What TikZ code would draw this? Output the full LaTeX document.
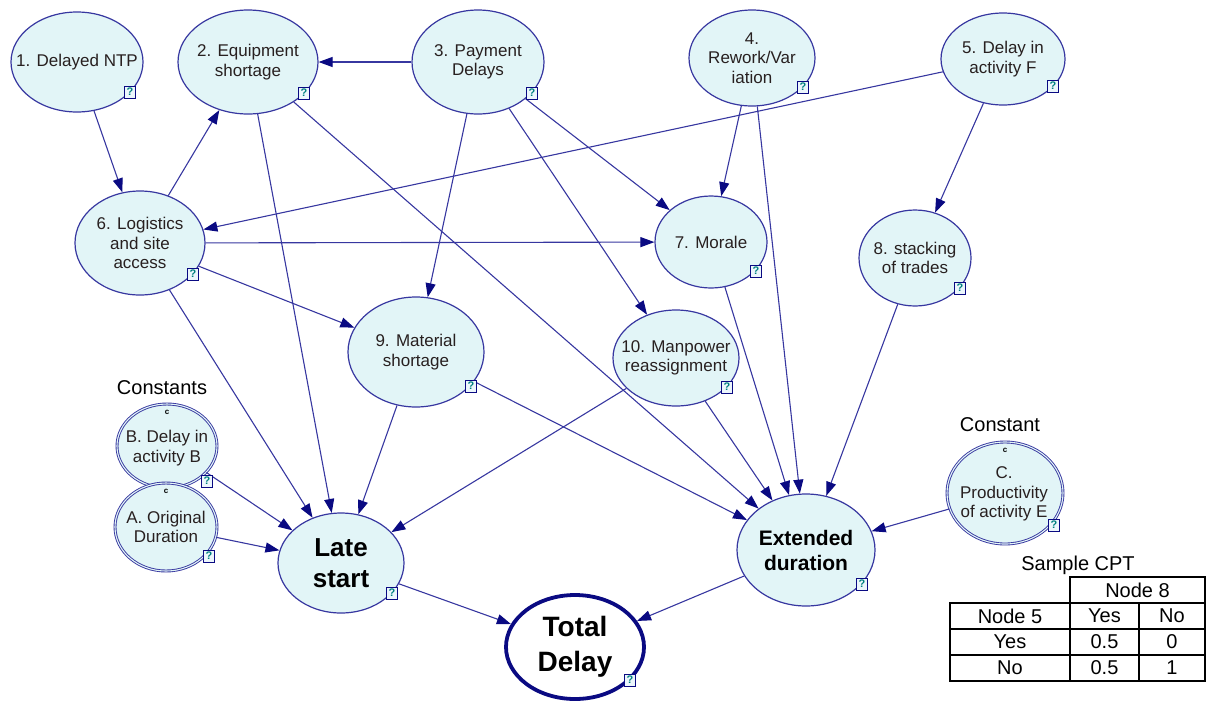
\documentclass[tikz,border=0pt]{standalone}
\usepackage{fontspec}
\setmainfont{Liberation Sans}
\usetikzlibrary{arrows.meta,shapes.geometric}
\definecolor{nodefill}{RGB}{226,245,247}
\definecolor{linec}{RGB}{55,55,160}
\definecolor{arrowc}{RGB}{10,10,130}
\definecolor{txtc}{RGB}{40,32,32}
\definecolor{qcol}{RGB}{0,128,128}
\definecolor{qfill}{RGB}{236,246,252}
\begin{document}
\begin{tikzpicture}[x=1pt,y=-1pt,
  bn/.style={ellipse, draw=linec, fill=nodefill, line width=1.2pt, inner sep=0pt},
  cn/.style={ellipse, draw=linec, fill=nodefill, double=nodefill, double distance=1.1pt, line width=0.9pt, inner sep=0pt},
  td/.style={ellipse, draw=arrowc, fill=white, line width=3.8pt, inner sep=0pt},
  lbl/.style={align=center, text=txtc, font=\fontsize{17}{19.5}\selectfont, inner sep=0pt},
  big/.style={align=center, text=black, inner sep=0pt},
  plain/.style={text=black, inner sep=0pt, font=\fontsize{20}{24}\selectfont},
  cmark/.style={text=black, inner sep=0pt, font=\bfseries\fontsize{8}{8}\selectfont},
  qb/.style={draw=arrowc, fill=qfill, line width=0.9pt, minimum width=11.5pt, minimum height=12pt, inner sep=0pt, font=\bfseries\fontsize{11}{11}\selectfont, text=qcol},
  conn/.style={draw=linec, line width=1.1pt, -{Triangle[length=14pt,width=10pt,color=arrowc]}},
  tab/.style={draw=black, line width=1.8pt}
]
\useasboundingbox (0,0) rectangle (1206,702);

% ---- nodes ----
\node[bn, minimum width=132pt, minimum height=100pt] (n1) at (77,62) {};
\node[lbl] (t1) at (n1) {1. Delayed NTP};
\node[bn, minimum width=140pt, minimum height=104pt] (n2) at (248,62) {};
\node[lbl] (t2) at (n2) {2. Equipment\\shortage};
\node[bn, minimum width=132pt, minimum height=104pt] (n3) at (478,62) {};
\node[lbl] (t3) at (n3) {3. Payment\\Delays};
\node[bn, minimum width=126pt, minimum height=96pt] (n4) at (752,58) {};
\node[lbl] (t4) at (n4) {4.\\Rework/Var\\iation};
\node[bn, minimum width=124pt, minimum height=92pt] (n5) at (1003,59) {};
\node[lbl] (t5) at (n5) {5. Delay in\\activity F};
\node[bn, minimum width=130pt, minimum height=104pt] (n6) at (140,243) {};
\node[lbl] (t6) at (n6) {6. Logistics\\and site\\access};
\node[bn, minimum width=112pt, minimum height=92pt] (n7) at (711,242) {};
\node[lbl] (t7) at (n7) {7. Morale};
\node[bn, minimum width=112pt, minimum height=96pt] (n8) at (915,258) {};
\node[lbl] (t8) at (n8) {8. stacking\\of trades};
\node[bn, minimum width=136pt, minimum height=110pt] (n9) at (416,352) {};
\node[lbl] (t9) at (n9) {9. Material\\shortage};
\node[bn, minimum width=126pt, minimum height=96pt] (n10) at (676,358) {};
\node[lbl] (t10) at (n10) {10. Manpower\\reassignment};
\node[cn, minimum width=100pt, minimum height=84pt] (nB) at (167,446) {};
\node[lbl] (tB) at (167,448) {B. Delay in\\activity B};
\node[cn, minimum width=102pt, minimum height=88pt] (nA) at (166,527) {};
\node[lbl] (tA) at (nA) {A. Original\\Duration};
\node[bn, minimum width=126pt, minimum height=100pt] (nLS) at (341,563) {};
\node[big, font=\bfseries\fontsize{26}{31}\selectfont] (tLS) at (nLS) {Late\\start};
\node[bn, minimum width=138pt, minimum height=112pt] (nED) at (806,550) {};
\node[big, font=\bfseries\fontsize{21}{25}\selectfont] (tED) at (nED) {Extended\\duration};
\node[cn, minimum width=116pt, minimum height=102pt] (nC) at (1005,493) {};
\node[lbl] (tC) at (1004,494) {C.\\Productivity\\of activity E};
\node[td, minimum width=138pt, minimum height=104pt] (nTD) at (575,647) {};
\node[big, font=\bfseries\fontsize{28}{35}\selectfont] (tTD) at (nTD) {Total\\Delay};

% constant marks
\node[cmark] (cB) at (167,412) {c};
\node[cmark] (cA) at (166,491) {c};
\node[cmark] (cC) at (1005,450) {c};

% ---- connectors ----
\draw[conn] (n1) -- (n6);
\draw[conn] (n6) -- (n2);
\draw[conn] (n3) -- (n2);
\draw[conn] (n2) -- (nLS);
\draw[conn] (n2) -- (nED);
\draw[conn] (n3) -- (n9);
\draw[conn] (n3) -- (n7);
\draw[conn] (n3) -- (n10);
\draw[conn] (n4) -- (n7);
\draw[conn] (n4) -- (nED);
\draw[conn] (n5) -- (n6);
\draw[conn] (n5) -- (n8);
\draw[conn] (n6) -- (n7);
\draw[conn] (n6) -- (n9);
\draw[conn] (n6) -- (nLS);
\draw[conn] (n7) -- (nED);
\draw[conn] (n8) -- (nED);
\draw[conn] (n9) -- (nLS);
\draw[conn] (n9) -- (nED);
\draw[conn] (n10) -- (nLS);
\draw[conn] (n10) -- (nED);
\draw[conn] (nB) -- (nLS);
\draw[conn] (nA) -- (nLS);
\draw[conn] (nC) -- (nED);
\draw[conn] (nLS) -- (nTD);
\draw[conn] (nED) -- (nTD);

% ---- question boxes ----
\node[qb] (q1) at (130,92) {?};
\node[qb] (q2) at (304,93) {?};
\node[qb] (q3) at (532,93) {?};
\node[qb] (q4) at (803,87) {?};
\node[qb] (q5) at (1053,86) {?};
\node[qb] (q6) at (193,274) {?};
\node[qb] (q7) at (756,271) {?};
\node[qb] (q8) at (960,288) {?};
\node[qb] (q9) at (471,386) {?};
\node[qb] (q10) at (727,387) {?};
\node[qb] (qB) at (207,481) {?};
\node[qb] (qA) at (209,556) {?};
\node[qb] (qLS) at (392,593) {?};
\node[qb] (qED) at (862,584) {?};
\node[qb] (qC) at (1054,525) {?};
\node[qb] (qTD) at (630,680) {?};

% ---- captions ----
\node[plain] (capA) at (162,388) {Constants};
\node[plain] (capC) at (1000,425) {Constant};
\node[plain] (capT) at (1078,565) {Sample CPT};

% ---- table ----
\draw[tab] (1070,577) rectangle (1205,603);
\draw[tab] (950,603) rectangle (1205,681);
\draw[tab] (950,629) -- (1205,629);
\draw[tab] (950,655) -- (1205,655);
\draw[tab] (1070,603) -- (1070,681);
\draw[tab] (1139,603) -- (1139,681);
\node[plain] (h8) at (1137.5,590) {Node 8};
\node[plain] (h5) at (1010,616) {Node 5};
\node[plain] (hy) at (1104.5,616) {Yes};
\node[plain] (hn) at (1172,616) {No};
\node[plain] (r1) at (1010,642) {Yes};
\node[plain] (r1a) at (1104.5,642) {0.5};
\node[plain] (r1b) at (1172,642) {0};
\node[plain] (r2) at (1010,668) {No};
\node[plain] (r2a) at (1104.5,668) {0.5};
\node[plain] (r2b) at (1172,668) {1};
\end{tikzpicture}
\end{document}
